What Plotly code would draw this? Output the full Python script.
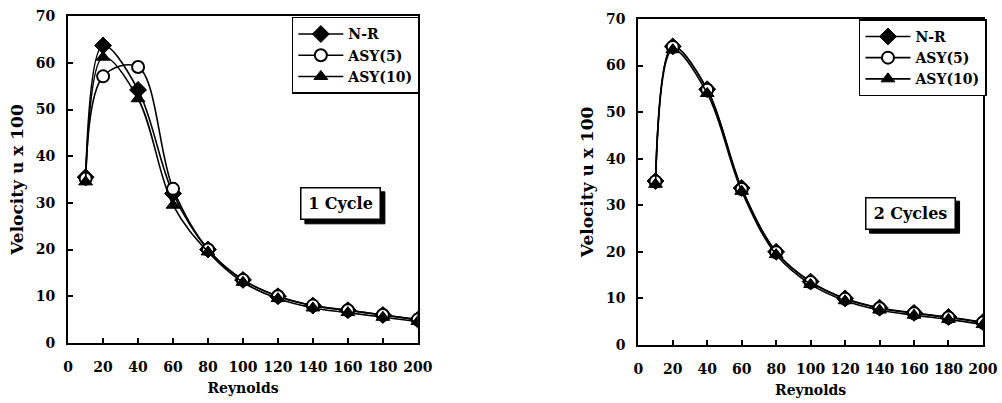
import plotly.graph_objects as go

reynolds = [10, 20, 40, 60, 80, 100, 120, 140, 160, 180, 200]

# 1 Cycle
nr_1 = [35.5, 63.7, 54.2, 32.0, 20.0, 13.5, 10.0, 8.0, 7.0, 6.0, 5.0]
asy5_1 = [35.2, 57.1, 59.1, 33.0, 20.0, 13.5, 10.0, 8.0, 7.0, 6.0, 5.0]
asy10_1 = [34.5, 61.2, 52.3, 29.5, 19.5, 13.0, 9.5, 7.5, 6.5, 5.5, 4.6]

# 2 Cycles
nr_2 = [35.2, 64.1, 54.9, 33.7, 20.0, 13.6, 10.0, 8.0, 6.9, 6.0, 4.9]
asy5_2 = [35.1, 64.0, 54.8, 33.5, 19.9, 13.5, 9.9, 7.9, 6.8, 5.9, 4.8]
asy10_2 = [34.5, 63.4, 54.0, 33.0, 19.4, 13.0, 9.5, 7.5, 6.4, 5.5, 4.4]

series_names = ["N-R", "ASY(5)", "ASY(10)"]
x_ticks = [0, 20, 40, 60, 80, 100, 120, 140, 160, 180, 200]
y_ticks = [0, 10, 20, 30, 40, 50, 60, 70]

FONT = "DejaVu Serif, Liberation Serif, serif"

markers = [
    dict(symbol="diamond", size=13, color="black", line=dict(color="black", width=1)),
    dict(symbol="circle", size=12, color="white", line=dict(color="black", width=2)),
    dict(symbol="triangle-up", size=12, color="black", line=dict(color="black", width=1)),
]

fig = go.Figure()

panels = [
    (dict(xaxis="x", yaxis="y", legend="legend"), [nr_1, asy5_1, asy10_1]),
    (dict(xaxis="x2", yaxis="y2", legend="legend2"), [nr_2, asy5_2, asy10_2]),
]

for axes, data in panels:
    for name, vals, mk in zip(series_names, data, markers):
        fig.add_trace(go.Scatter(
            x=reynolds, y=vals, name=name, mode="lines+markers",
            line=dict(color="black", width=1.6, shape="spline", smoothing=1.0),
            marker=mk, **axes,
        ))

axis_common = dict(
    showline=True, linecolor="black", linewidth=2, mirror=True,
    ticks="inside", ticklen=5, tickwidth=1.5, tickcolor="black",
    showgrid=False, zeroline=False, automargin=False,
    tickfont=dict(family=FONT, size=14, color="black", weight="bold"),
)

xtitle = dict(text="Reynolds", font=dict(family=FONT, size=14, weight="bold"), standoff=9)
ytitle = dict(text="Velocity u x 100", font=dict(family=FONT, size=17, weight="bold"), standoff=8)

fig.update_layout(
    width=1002, height=403,
    margin=dict(l=0, r=0, t=0, b=0),
    paper_bgcolor="white", plot_bgcolor="white",
    font=dict(family=FONT, color="black"),
    showlegend=True,
    xaxis=dict(domain=[0.068, 0.417], range=[0, 200], tickvals=x_ticks, anchor="y",
               title=xtitle, ticklabelstandoff=10, **axis_common),
    yaxis=dict(domain=[0.149, 0.960], range=[0, 70], tickvals=y_ticks, anchor="x",
               title=ytitle, ticklabelstandoff=8, **axis_common),
    xaxis2=dict(domain=[0.637, 0.981], range=[0, 200], tickvals=x_ticks, anchor="y2",
                title=xtitle, ticklabelstandoff=10, **axis_common),
    yaxis2=dict(domain=[0.144, 0.953], range=[0, 70], tickvals=y_ticks, anchor="x2",
                title=ytitle, ticklabelstandoff=8, **axis_common),
    legend=dict(x=0.419, y=0.958, xanchor="right", yanchor="top",
                bgcolor="white", bordercolor="black", borderwidth=1.5,
                font=dict(family=FONT, size=14, color="black", weight="bold"),
                tracegroupgap=0, itemwidth=45),
    legend2=dict(x=0.985, y=0.952, xanchor="right", yanchor="top",
                 bgcolor="white", bordercolor="black", borderwidth=1.5,
                 font=dict(family=FONT, size=14, color="black", weight="bold"),
                 tracegroupgap=0, itemwidth=45),
)

# Text boxes with drop shadow
boxes = [
    ("1 Cycle", "x", "y", 156, 29.8, 70),
    ("2 Cycles", "x2", "y2", 158, 28.3, 80),
]
for text, xr, yr, xv, yv, w in boxes:
    half_w = w / 2 + 5
    half_h = 16
    fig.add_shape(type="rect", xref=xr, yref=yr, xsizemode="pixel", ysizemode="pixel",
                  xanchor=xv, yanchor=yv,
                  x0=-half_w + 4, x1=half_w + 4, y0=-half_h - 4, y1=half_h - 4,
                  fillcolor="black", line=dict(color="black", width=1), layer="above")
    fig.add_annotation(x=xv, y=yv, xref=xr, yref=yr, text=text, showarrow=False,
                       font=dict(family=FONT, size=16, color="black", weight="bold"),
                       width=w, height=22,
                       bgcolor="white", bordercolor="black", borderwidth=1.5, borderpad=4)

fig.write_html("out.html")
